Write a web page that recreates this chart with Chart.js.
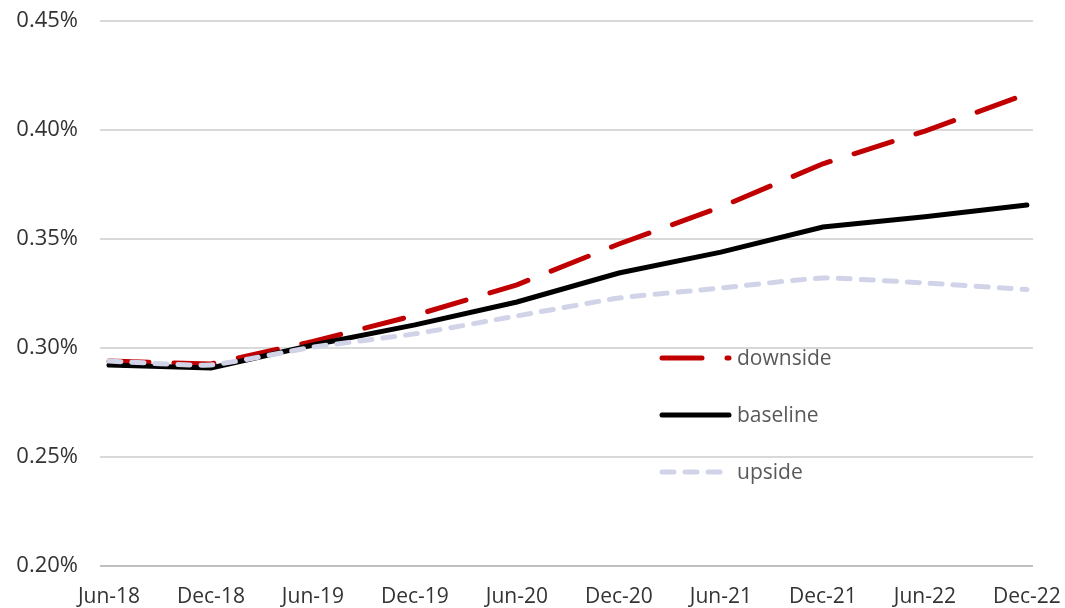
<!DOCTYPE html>
<html>
<head>
<meta charset="utf-8">
<style>
  html, body { margin: 0; padding: 0; background: #fff; }
  #wrap { width: 1065px; height: 608px; }
</style>
<script src="https://cdn.jsdelivr.net/npm/chart.js@4/dist/chart.umd.min.js"></script>
</head>
<body>
<div id="wrap"><canvas id="scenarioChart" width="1065" height="608"></canvas></div>
<script>
    const periods = ['Jun-18', 'Dec-18', 'Jun-19', 'Dec-19', 'Jun-20', 'Dec-20', 'Jun-21', 'Dec-21', 'Jun-22', 'Dec-22'];
    const downside = [0.2940, 0.2927, 0.3030, 0.3150, 0.3290, 0.3477, 0.3647, 0.3845, 0.3995, 0.4165];
    const baseline = [0.2922, 0.2908, 0.3014, 0.3106, 0.3211, 0.3344, 0.3440, 0.3555, 0.3602, 0.3656];
    const upside   = [0.2940, 0.2922, 0.3004, 0.3065, 0.3147, 0.3229, 0.3275, 0.3321, 0.3298, 0.3268];
    const yTicks = [0.20, 0.25, 0.30, 0.35, 0.40, 0.45];

    const FONT = "'Open Sans', 'Noto Sans', sans-serif";

    function points(arr) {
      return arr.map((v, i) => ({ x: i, y: v }));
    }

    // legend drawn inside the plot, like the original
    const insideLegend = {
      id: 'insideLegend',
      afterDraw(chart) {
        const c = chart.ctx;
        const rows = [
          { ds: chart.data.datasets[0], y: 358 },
          { ds: chart.data.datasets[1], y: 415 },
          { ds: chart.data.datasets[2], y: 472 }
        ];
        c.save();
        rows.forEach(r => {
          c.beginPath();
          c.strokeStyle = r.ds.borderColor;
          c.lineWidth = r.ds.borderWidth;
          c.lineCap = r.ds.borderCapStyle || 'butt';
          c.setLineDash(r.ds.borderDash || []);
          c.moveTo(662, r.y);
          c.lineTo(729, r.y);
          c.stroke();
          c.setLineDash([]);
          c.fillStyle = '#595959';
          c.font = '21px ' + FONT;
          c.textBaseline = 'middle';
          c.textAlign = 'left';
          c.fillText(r.ds.label, 737, r.y + 1);
        });
        c.restore();
      }
    };

    const ctx = document.getElementById('scenarioChart').getContext('2d');
    const chart = new Chart(ctx, {
      type: 'line',
      data: {
        datasets: [
          {
            label: 'downside',
            data: points(downside),
            borderColor: '#c00000',
            borderWidth: 5,
            borderDash: [40, 25],
            borderCapStyle: 'round',
            pointRadius: 0,
            tension: 0,
            order: 3
          },
          {
            label: 'baseline',
            data: points(baseline),
            borderColor: '#000000',
            borderWidth: 5,
            borderCapStyle: 'round',
            pointRadius: 0,
            tension: 0,
            order: 2
          },
          {
            label: 'upside',
            data: points(upside),
            borderColor: '#d1d4e8',
            borderWidth: 5,
            borderDash: [12, 11],
            borderCapStyle: 'round',
            pointRadius: 0,
            tension: 0.15,
            order: 1
          }
        ]
      },
      options: {
        responsive: false,
        animation: false,
        layout: { padding: { top: 21, right: 32, left: 0, bottom: 0 } },
        plugins: {
          legend: { display: false },
          tooltip: { enabled: false }
        },
        scales: {
          x: {
            type: 'linear',
            min: -0.088,
            max: 9.06,
            afterBuildTicks: scale => {
              scale.ticks = periods.map((_, i) => ({ value: i }));
            },
            afterFit: scale => {
              scale.height = 42;
              scale.paddingLeft = 0;
              scale.paddingRight = 0;
            },
            grid: { display: false, drawTicks: false },
            border: { display: false },
            ticks: {
              autoSkip: false,
              maxRotation: 0,
              padding: 18,
              color: '#333333',
              font: { family: FONT, size: 21 },
              callback: v => periods[v]
            }
          },
          y: {
            min: 0.20,
            max: 0.45,
            afterBuildTicks: scale => {
              scale.ticks = yTicks.map(v => ({ value: v }));
            },
            afterFit: scale => {
              scale.width = 100;
              scale.paddingTop = 0;
              scale.paddingBottom = 0;
            },
            grid: {
              drawTicks: false,
              lineWidth: 2,
              color: c => c.index === 0 ? '#bfbfbf' : '#d9d9d9'
            },
            border: { display: false },
            ticks: {
              padding: 22,
              color: '#333333',
              font: { family: FONT, size: 22 },
              callback: v => v.toFixed(2) + '%'
            }
          }
        }
      },
      plugins: [insideLegend]
    });
</script>
</body>
</html>
